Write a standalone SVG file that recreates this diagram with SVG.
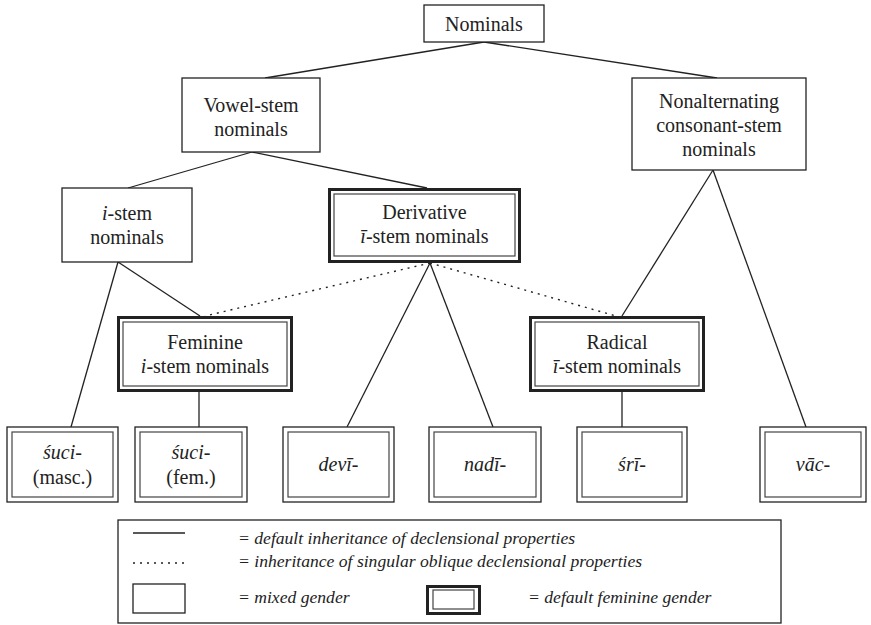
<svg xmlns="http://www.w3.org/2000/svg" width="871" height="625" viewBox="0 0 871 625">
<style>
.t{font-family:'Liberation Serif','Times New Roman',Times,Tinos,'Noto Serif','DejaVu Serif',serif;font-size:20px;fill:#222;text-anchor:middle}
.i{font-style:italic}
.lg{font-family:'Liberation Serif','Times New Roman',Times,Tinos,'Noto Serif','DejaVu Serif',serif;font-size:17.6px;font-style:italic;fill:#222}
.box{fill:#fff;stroke:#222;stroke-width:1.3}
.thick{fill:#fff;stroke:#222;stroke-width:3}
.inner{fill:none;stroke:#444;stroke-width:1.2}
.ln{stroke:#222;stroke-width:1.3;fill:none}
.dot{stroke:#222;stroke-width:1.4;fill:none;stroke-dasharray:2 5}
</style>
<rect width="871" height="625" fill="#fff"/>
<g id="connectors">
<line class="ln" x1="484" y1="42" x2="265" y2="78"/>
<line class="ln" x1="484" y1="42" x2="717" y2="78"/>
<line class="ln" x1="252" y1="152" x2="128" y2="188"/>
<line class="ln" x1="252" y1="152" x2="427" y2="188"/>
<line class="ln" x1="118" y1="262" x2="71" y2="427"/>
<line class="ln" x1="118" y1="262" x2="200" y2="316"/>
<line class="ln" x1="430" y1="263" x2="347" y2="427"/>
<line class="ln" x1="430" y1="263" x2="493" y2="427"/>
<line class="dot" x1="430" y1="263" x2="205" y2="316"/>
<line class="dot" x1="430" y1="263" x2="616" y2="316"/>
<line class="ln" x1="713" y1="170" x2="622" y2="316"/>
<line class="ln" x1="713" y1="170" x2="806" y2="427"/>
<line class="ln" x1="199" y1="392" x2="199" y2="427"/>
<line class="ln" x1="622" y1="392" x2="622" y2="427"/>
</g>
<g id="nominals">
<rect class="box" x="424" y="5" width="120" height="37"/>
<text class="t" x="484" y="31">Nominals</text>
</g>
<g id="vowel-stem">
<rect class="box" x="182" y="78" width="138" height="74"/>
<text class="t" x="251" y="112">Vowel-stem</text>
<text class="t" x="251" y="136">nominals</text>
</g>
<g id="nonalternating">
<rect class="box" x="632" y="78" width="174" height="92"/>
<text class="t" x="719" y="108">Nonalternating</text>
<text class="t" x="719" y="132">consonant-stem</text>
<text class="t" x="719" y="156">nominals</text>
</g>
<g id="i-stem">
<rect class="box" x="62" y="188" width="130" height="74"/>
<text class="t" x="127" y="220"><tspan class="i">i</tspan>-stem</text>
<text class="t" x="127" y="244">nominals</text>
</g>
<g id="derivative">
<rect class="thick" x="329.5" y="189.5" width="190" height="72"/>
<rect class="inner" x="334" y="194" width="181" height="62"/>
<text class="t" x="424.5" y="219">Derivative</text>
<text class="t" x="424.5" y="243"><tspan class="i">ī</tspan>-stem nominals</text>
</g>
<g id="feminine">
<rect class="thick" x="118.5" y="317.5" width="173" height="73"/>
<rect class="inner" x="123" y="322" width="164" height="64"/>
<text class="t" x="205" y="349">Feminine</text>
<text class="t" x="205" y="373"><tspan class="i">i</tspan>-stem nominals</text>
</g>
<g id="radical">
<rect class="thick" x="530.5" y="317.5" width="173" height="73"/>
<rect class="inner" x="535" y="322" width="164" height="64"/>
<text class="t" x="617" y="349">Radical</text>
<text class="t" x="617" y="373"><tspan class="i">ī</tspan>-stem nominals</text>
</g>
<g id="suci-masc">
<rect class="box" x="7" y="427" width="111" height="75"/>
<rect class="inner" x="12" y="432" width="101" height="65"/>
<text class="t i" x="62.5" y="459">śuci-</text>
<text class="t" x="62.5" y="484">(masc.)</text>
</g>
<g id="suci-fem">
<rect class="box" x="135" y="427" width="112" height="75"/>
<rect class="inner" x="140" y="432" width="102" height="65"/>
<text class="t i" x="191" y="459">śuci-</text>
<text class="t" x="191" y="484">(fem.)</text>
</g>
<g id="devi">
<rect class="box" x="283" y="427" width="111" height="75"/>
<rect class="inner" x="288" y="432" width="101" height="65"/>
<text class="t i" x="338.5" y="471">devī-</text>
</g>
<g id="nadi">
<rect class="box" x="429" y="427" width="112" height="75"/>
<rect class="inner" x="434" y="432" width="102" height="65"/>
<text class="t i" x="485" y="471">nadī-</text>
</g>
<g id="sri">
<rect class="box" x="577" y="427" width="110" height="75"/>
<rect class="inner" x="582" y="432" width="100" height="65"/>
<text class="t i" x="632" y="471">śrī-</text>
</g>
<g id="vac">
<rect class="box" x="760" y="427" width="106" height="75"/>
<rect class="inner" x="765" y="432" width="96" height="65"/>
<text class="t i" x="813" y="471">vāc-</text>
</g>
<g id="legend">
<rect class="box" x="118" y="520" width="663" height="103"/>
<line class="ln" x1="133" y1="533" x2="185" y2="533"/>
<text class="lg" x="238" y="544">= default inheritance of declensional properties</text>
<line class="dot" x1="133" y1="563" x2="185" y2="563"/>
<text class="lg" x="238" y="567">= inheritance of singular oblique declensional properties</text>
<rect class="box" x="133" y="584" width="52" height="29"/>
<text class="lg" x="238" y="603">= mixed gender</text>
<rect class="thick" x="427.5" y="586.5" width="52" height="27"/>
<rect class="inner" x="433" y="590" width="41" height="19"/>
<text class="lg" x="528" y="603">= default feminine gender</text>
</g>
</svg>
